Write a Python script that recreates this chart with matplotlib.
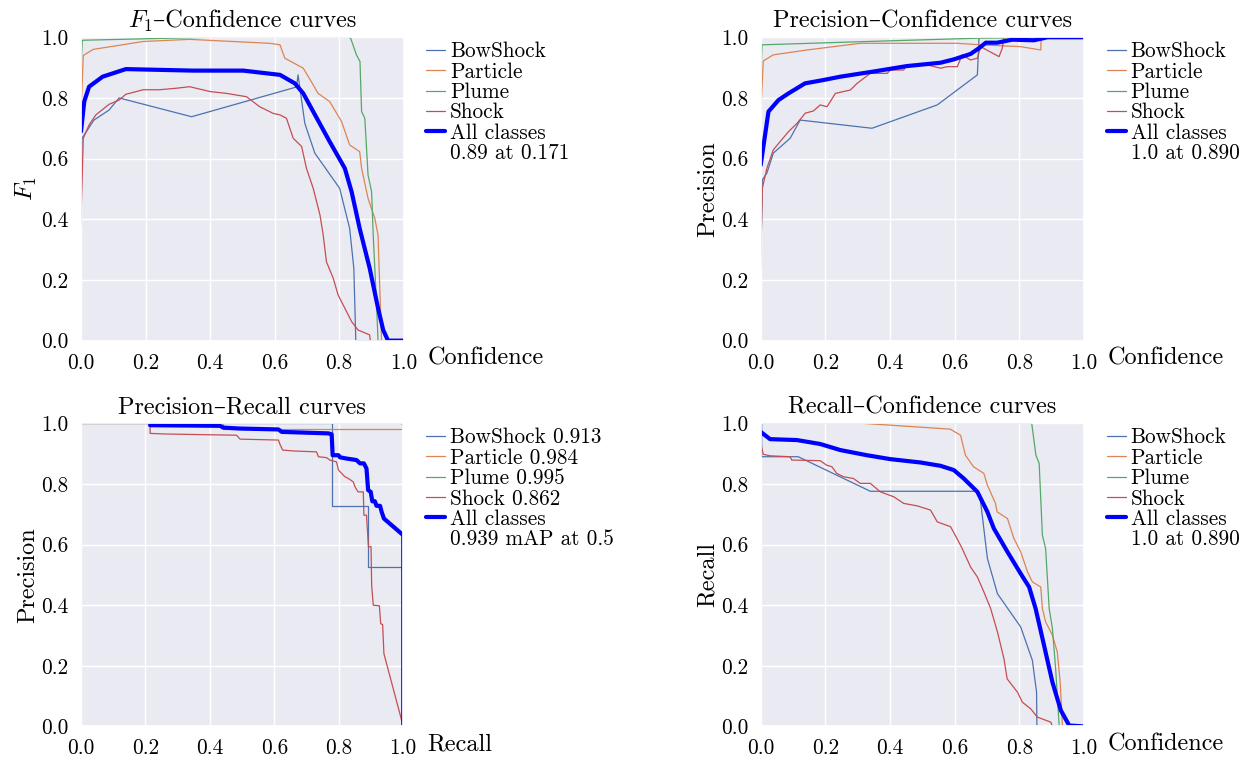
import matplotlib
matplotlib.use('Agg')
import matplotlib.pyplot as plt
from matplotlib.lines import Line2D
from matplotlib.offsetbox import TextArea, HPacker, AnchoredOffsetbox
import seaborn as sns

sns.set_theme(style='darkgrid')
plt.rcParams['font.family'] = ['cmr10', 'DejaVu Serif']
plt.rcParams['mathtext.fontset'] = 'cm'
plt.rcParams['axes.unicode_minus'] = False
plt.rcParams['axes.formatter.use_mathtext'] = True
for k in ['text.color', 'axes.labelcolor', 'xtick.color', 'ytick.color']:
    plt.rcParams[k] = 'black'

# ---------------- data ----------------
class_names = ['BowShock', 'Particle', 'Plume', 'Shock']
class_colors = ['#4C72B0', '#DD8452', '#55A868', '#C44E52']
ticks = [0.0, 0.2, 0.4, 0.6, 0.8, 1.0]
tick_labels = ['0.0', '0.2', '0.4', '0.6', '0.8', '1.0']

# F1 - Confidence
f1_bowshock_x = [0.0, 0.003, 0.01, 0.04, 0.087, 0.118, 0.343, 0.668, 0.673, 0.694, 0.725, 0.802, 0.833, 0.846, 0.852, 1.0]
f1_bowshock_y = [0.38, 0.667, 0.678, 0.727, 0.76, 0.80, 0.738, 0.836, 0.876, 0.716, 0.618, 0.502, 0.37, 0.238, 0.0, 0.0]
f1_particle_x = [0.0, 0.007, 0.038, 0.193, 0.337, 0.585, 0.617, 0.632, 0.689, 0.72, 0.735, 0.771, 0.808, 0.833, 0.864, 0.87, 0.89, 0.911, 0.921, 0.926, 0.932, 1.0]
f1_particle_y = [0.75, 0.94, 0.96, 0.986, 0.993, 0.98, 0.975, 0.931, 0.898, 0.843, 0.815, 0.788, 0.722, 0.645, 0.623, 0.568, 0.469, 0.403, 0.348, 0.184, 0.0, 0.0]
f1_plume_x = [0.0, 0.004, 0.2, 0.4, 0.83, 0.836, 0.854, 0.865, 0.87, 0.88, 0.89, 0.901, 0.906, 0.916, 0.921, 1.0]
f1_plume_y = [0.9, 0.99, 0.995, 1.0, 1.0, 0.997, 0.942, 0.92, 0.755, 0.733, 0.546, 0.491, 0.348, 0.129, 0.0, 0.0]
f1_shock_x = [0.0, 0.007, 0.025, 0.046, 0.087, 0.118, 0.139, 0.193, 0.244, 0.296, 0.337, 0.4, 0.451, 0.513, 0.554, 0.596, 0.617, 0.637, 0.658, 0.684, 0.699, 0.72, 0.741, 0.751, 0.761, 0.782, 0.797, 0.818, 0.839, 0.859, 0.895, 0.897, 1.0]
f1_shock_y = [0.403, 0.667, 0.711, 0.744, 0.779, 0.793, 0.812, 0.827, 0.827, 0.832, 0.837, 0.821, 0.815, 0.804, 0.771, 0.749, 0.744, 0.733, 0.667, 0.64, 0.568, 0.502, 0.414, 0.348, 0.26, 0.206, 0.151, 0.107, 0.063, 0.035, 0.019, 0.0, 0.0]
f1_all_x = [0.0, 0.01, 0.025, 0.067, 0.139, 0.348, 0.503, 0.617, 0.663, 0.689, 0.72, 0.771, 0.818, 0.839, 0.864, 0.895, 0.921, 0.937, 0.952, 1.0]
f1_all_y = [0.689, 0.788, 0.837, 0.87, 0.895, 0.89, 0.89, 0.876, 0.848, 0.815, 0.755, 0.656, 0.568, 0.491, 0.37, 0.239, 0.107, 0.035, 0.0, 0.0]
f1_all_label = ['All classes', '0.89 at 0.171']

# Precision - Confidence
p_bowshock_x = [0.0, 0.005, 0.019, 0.039, 0.091, 0.122, 0.344, 0.546, 0.67, 0.675, 1.0]
p_bowshock_y = [0.239, 0.53, 0.552, 0.618, 0.667, 0.727, 0.70, 0.777, 0.876, 1.0, 1.0]
p_particle_x = [0.0, 0.008, 0.039, 0.143, 0.308, 0.608, 0.68, 0.804, 0.866, 0.867, 1.0]
p_particle_y = [0.75, 0.922, 0.942, 0.958, 0.98, 0.98, 0.975, 0.969, 0.958, 1.0, 1.0]
p_plume_x = [0.0, 0.004, 0.3, 0.675, 1.0]
p_plume_y = [0.85, 0.975, 0.985, 0.997, 1.0]
p_shock_x = [0.0, 0.005, 0.019, 0.039, 0.06, 0.086, 0.112, 0.138, 0.163, 0.184, 0.205, 0.231, 0.277, 0.298, 0.339, 0.391, 0.401, 0.442, 0.452, 0.514, 0.556, 0.577, 0.608, 0.623, 0.649, 0.67, 0.68, 0.737, 0.747, 0.752, 1.0]
p_shock_y = [0.26, 0.502, 0.568, 0.629, 0.656, 0.689, 0.716, 0.75, 0.757, 0.777, 0.771, 0.815, 0.826, 0.848, 0.881, 0.881, 0.892, 0.892, 0.909, 0.909, 0.898, 0.903, 0.903, 0.942, 0.925, 0.931, 0.969, 0.936, 0.964, 1.0, 1.0]
p_all_x = [0.0, 0.024, 0.055, 0.086, 0.137, 0.194, 0.246, 0.349, 0.452, 0.556, 0.597, 0.649, 0.675, 0.696, 0.731, 0.778, 0.845, 0.887, 1.0]
p_all_y = [0.579, 0.755, 0.793, 0.815, 0.848, 0.859, 0.87, 0.887, 0.905, 0.916, 0.927, 0.945, 0.964, 0.982, 0.982, 0.992, 0.99, 1.0, 1.0]
p_all_label = ['All classes', '1.0 at 0.890']

# Precision - Recall
pr_bowshock_x = [0.0, 0.779, 0.779, 0.891, 0.891, 1.0, 1.0]
pr_bowshock_y = [1.0, 1.0, 0.727, 0.727, 0.526, 0.526, 0.0]
pr_particle_x = [0.0, 0.44, 0.44, 1.0]
pr_particle_y = [1.0, 1.0, 0.983, 0.983]
pr_plume_x = [0.0, 0.995, 1.0]
pr_plume_y = [1.0, 1.0, 0.99]
pr_shock_x = [0.0, 0.215, 0.215, 0.261, 0.483, 0.494, 0.613, 0.618, 0.626, 0.659, 0.731, 0.737, 0.762, 0.772, 0.793, 0.799, 0.819, 0.83, 0.845, 0.85, 0.86, 0.876, 0.878, 0.886, 0.892, 0.9, 0.902, 0.907, 0.926, 0.93, 0.936, 0.94, 1.0]
pr_shock_y = [1.0, 1.0, 0.967, 0.965, 0.961, 0.948, 0.945, 0.93, 0.912, 0.909, 0.906, 0.89, 0.887, 0.879, 0.873, 0.846, 0.824, 0.818, 0.807, 0.791, 0.774, 0.774, 0.697, 0.697, 0.593, 0.593, 0.466, 0.40, 0.398, 0.339, 0.336, 0.24, 0.0]
pr_all_x = [0.215, 0.432, 0.442, 0.494, 0.613, 0.623, 0.768, 0.778, 0.781, 0.799, 0.804, 0.824, 0.855, 0.866, 0.878, 0.886, 0.891, 0.899, 0.904, 0.912, 0.917, 0.928, 0.933, 0.94, 1.0, 1.0]
pr_all_y = [0.994, 0.992, 0.986, 0.983, 0.98, 0.972, 0.967, 0.964, 0.895, 0.895, 0.888, 0.884, 0.879, 0.868, 0.868, 0.851, 0.78, 0.774, 0.743, 0.743, 0.728, 0.728, 0.708, 0.686, 0.631, 0.0]
pr_class_ap = ['0.913', '0.984', '0.995', '0.862']
pr_all_label = ['All classes', '0.939 mAP at 0.5']

# Recall - Confidence
r_bowshock_x = [0.003, 0.003, 0.116, 0.339, 0.67, 0.68, 0.701, 0.732, 0.804, 0.84, 0.853, 0.854, 1.0]
r_bowshock_y = [1.0, 0.89, 0.89, 0.776, 0.776, 0.741, 0.554, 0.438, 0.328, 0.218, 0.113, 0.0, 0.0]
r_particle_x = [0.0, 0.318, 0.586, 0.618, 0.633, 0.658, 0.69, 0.701, 0.726, 0.731, 0.763, 0.783, 0.804, 0.825, 0.84, 0.866, 0.871, 0.881, 0.902, 0.917, 0.926, 0.933, 1.0]
r_particle_y = [1.0, 1.0, 0.981, 0.961, 0.895, 0.857, 0.835, 0.796, 0.736, 0.708, 0.686, 0.62, 0.576, 0.51, 0.477, 0.46, 0.389, 0.345, 0.301, 0.246, 0.146, 0.0, 0.0]
r_plume_x = [0.0, 0.838, 0.851, 0.861, 0.871, 0.881, 0.892, 0.902, 0.912, 0.923, 1.0]
r_plume_y = [1.0, 1.0, 0.895, 0.868, 0.631, 0.587, 0.389, 0.323, 0.19, 0.0, 0.0]
r_shock_x = [0.0, 0.008, 0.029, 0.091, 0.096, 0.184, 0.204, 0.22, 0.235, 0.256, 0.287, 0.308, 0.339, 0.37, 0.411, 0.442, 0.483, 0.525, 0.546, 0.587, 0.607, 0.623, 0.649, 0.67, 0.69, 0.711, 0.732, 0.752, 0.762, 0.794, 0.809, 0.835, 0.855, 0.897, 0.902, 1.0]
r_shock_y = [0.934, 0.898, 0.893, 0.89, 0.879, 0.877, 0.862, 0.857, 0.835, 0.824, 0.818, 0.802, 0.802, 0.774, 0.758, 0.736, 0.728, 0.714, 0.675, 0.659, 0.62, 0.587, 0.526, 0.493, 0.444, 0.389, 0.312, 0.224, 0.157, 0.113, 0.08, 0.058, 0.031, 0.014, 0.0, 0.0]
r_all_x = [0.0, 0.029, 0.112, 0.184, 0.246, 0.328, 0.401, 0.494, 0.556, 0.597, 0.628, 0.67, 0.701, 0.721, 0.763, 0.804, 0.83, 0.85, 0.876, 0.902, 0.928, 0.954, 1.0]
r_all_y = [0.972, 0.948, 0.945, 0.932, 0.912, 0.895, 0.882, 0.871, 0.86, 0.846, 0.818, 0.774, 0.708, 0.653, 0.576, 0.504, 0.46, 0.389, 0.268, 0.146, 0.053, 0.003, 0.0]
r_all_label = ['All classes', '1.0 at 0.890']

# ---------------- figure ----------------
TICK_FS = 15.3
LEG_FS = 15.3
LAB_FS = 17.5
TITLE_FS = 17.5

fig = plt.figure(figsize=(12.52, 7.57), dpi=100)
positions = [
    [0.0647, 0.5500, 0.2576, 0.4008],
    [0.6076, 0.5500, 0.2583, 0.4008],
    [0.0645, 0.0404, 0.2576, 0.4003],
    [0.6076, 0.0404, 0.2583, 0.4003],
]

panels = [
    dict(series=[(f1_bowshock_x, f1_bowshock_y), (f1_particle_x, f1_particle_y),
                 (f1_plume_x, f1_plume_y), (f1_shock_x, f1_shock_y)],
         all=(f1_all_x, f1_all_y), all_label=f1_all_label, names=class_names,
         title=(r'$F_1$', '–Confidence curves'), xlabel='Confidence', ylabel=r'$F_1$'),
    dict(series=[(p_bowshock_x, p_bowshock_y), (p_particle_x, p_particle_y),
                 (p_plume_x, p_plume_y), (p_shock_x, p_shock_y)],
         all=(p_all_x, p_all_y), all_label=p_all_label, names=class_names,
         title='Precision–Confidence curves', xlabel='Confidence', ylabel='Precision'),
    dict(series=[(pr_bowshock_x, pr_bowshock_y), (pr_particle_x, pr_particle_y),
                 (pr_plume_x, pr_plume_y), (pr_shock_x, pr_shock_y)],
         all=(pr_all_x, pr_all_y), all_label=pr_all_label,
         names=[f'{n} {a}' for n, a in zip(class_names, pr_class_ap)],
         title='Precision–Recall curves', xlabel='Recall', ylabel='Precision'),
    dict(series=[(r_bowshock_x, r_bowshock_y), (r_particle_x, r_particle_y),
                 (r_plume_x, r_plume_y), (r_shock_x, r_shock_y)],
         all=(r_all_x, r_all_y), all_label=r_all_label, names=class_names,
         title='Recall–Confidence curves', xlabel='Confidence', ylabel='Recall'),
]

for pos, p in zip(positions, panels):
    ax = fig.add_axes(pos)
    ax.set_facecolor('#EAEAF2')
    handles = []
    for (xs, ys), c, n in zip(p['series'], class_colors, p['names']):
        h, = ax.plot(xs, ys, color=c, lw=0.9, label=n)
        handles.append(h)
    hb, = ax.plot(p['all'][0], p['all'][1], color='blue', lw=3, label=p['all_label'][0])
    handles.append(hb)
    handles.append(Line2D([], [], color='none', label=p['all_label'][1]))
    ax.set_xlim(0, 1)
    ax.set_ylim(0, 1)
    ax.set_xticks(ticks)
    ax.set_xticklabels(tick_labels)
    ax.set_yticks(ticks)
    ax.set_yticklabels(tick_labels)
    ax.tick_params(labelsize=TICK_FS, colors='black', pad=3)
    if isinstance(p['title'], tuple):
        parts = [TextArea(t, textprops=dict(fontsize=TITLE_FS, color='black')) for t in p['title']]
        box = HPacker(children=parts, align='baseline', pad=0, sep=0)
        anch = AnchoredOffsetbox(loc='lower center', child=box, pad=0, borderpad=0,
                                 frameon=False, bbox_to_anchor=(0.5, 1.012),
                                 bbox_transform=ax.transAxes)
        ax.add_artist(anch)
    else:
        ax.set_title(p['title'], fontsize=TITLE_FS, pad=7)
    ax.set_ylabel(p['ylabel'], fontsize=LAB_FS, labelpad=1.5)
    ax.set_xlabel(p['xlabel'], fontsize=LAB_FS, ha='left', va='center')
    ax.xaxis.set_label_coords(1.074, -0.06)
    ax.legend(handles=handles, loc='upper left', bbox_to_anchor=(1.070, 0.985),
              frameon=False, fontsize=LEG_FS, handlelength=0.9, handletextpad=0.22,
              labelspacing=0.04, borderaxespad=0.0, borderpad=0.0)

fig.savefig('out.png', dpi=100)
